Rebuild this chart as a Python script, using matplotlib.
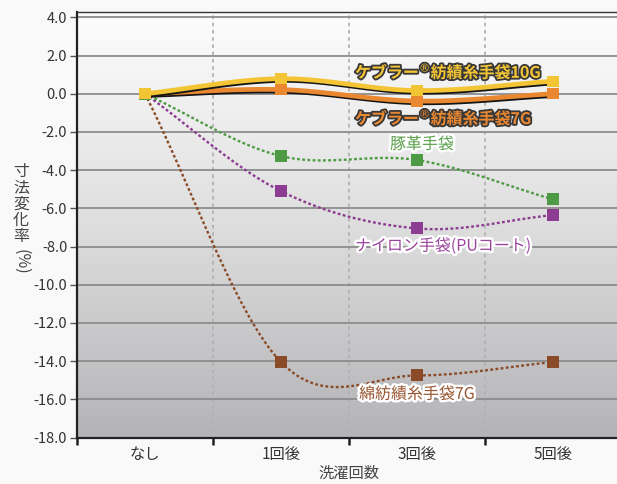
import numpy as np
import matplotlib
matplotlib.use('Agg')
import matplotlib.pyplot as plt
import matplotlib.patheffects as pe
from matplotlib.colors import LinearSegmentedColormap

plt.rcParams['font.family'] = ['Noto Sans CJK JP', 'DejaVu Sans']
plt.rcParams['mathtext.fontset'] = 'dejavusans'

# ---- data ----
categories = ['なし', '1回後', '3回後', '5回後']
kevlar10 = [0.0, 0.79, 0.17, 0.66]
kevlar7 = [0.0, 0.22, -0.38, 0.0]
pigskin = [0.0, -3.26, -3.47, -5.53]
nylon = [0.0, -5.10, -7.05, -6.35]
cotton = [0.0, -14.05, -14.75, -14.05]
ytick_values = [4, 2, 0, -2, -4, -6, -8, -10, -12, -14, -16, -18]
ytick_labels = ['4.0', '2.0', '0.0', '-2.0', '-4.0', '-6.0', '-8.0',
                '-10.0', '-12.0', '-14.0', '-16.0', '-18.0']
series_names = ['ケブラー$^{\\mathrm{®}}$紡績糸手袋10G',
                'ケブラー$^{\\mathrm{®}}$紡績糸手袋7G',
                '豚革手袋', 'ナイロン手袋(PUコート)', '綿紡績糸手袋7G']
xlabel = '洗濯回数'
ylabel_chars = ['寸', '法', '変', '化', '率']
ylabel_tail = '(%)'


def smooth(xs, ys, n=40):
    """Catmull-Rom spline through the points (reflected end points)."""
    P = np.column_stack([xs, ys]).astype(float)
    P = np.vstack([2 * P[0] - P[1], P, 2 * P[-1] - P[-2]])
    out = []
    t = np.linspace(0, 1, n)[:, None]
    for i in range(1, len(P) - 2):
        b0 = P[i]
        b1 = P[i] + (P[i + 1] - P[i - 1]) / 6
        b2 = P[i + 1] - (P[i + 2] - P[i]) / 6
        b3 = P[i + 1]
        seg = ((1 - t) ** 3) * b0 + 3 * ((1 - t) ** 2) * t * b1 + \
            3 * (1 - t) * t ** 2 * b2 + t ** 3 * b3
        out.append(seg if i == 1 else seg[1:])
    c = np.vstack(out)
    return c[:, 0], c[:, 1]


W, H = 617, 484
fig = plt.figure(figsize=(W / 100, H / 100), dpi=100, facecolor='#f9f9f9')
ax = fig.add_axes([77 / W, (H - 437.5) / H, 544 / W, 425.8 / H])

# gradient background
grad = np.linspace(0, 1, 256).reshape(-1, 1)
cmap = LinearSegmentedColormap.from_list('g', ['#fdfdfd', '#dedede', '#b4b4b8'])
ax.imshow(grad, cmap=cmap, extent=[0, 1, 0, 1], transform=ax.transAxes,
          aspect='auto', zorder=0, interpolation='bilinear')

ax.set_xlim(-0.5, 3.5)
ax.set_ylim(-18, 4.3)

# grid
ax.set_yticks(ytick_values)
ax.set_yticklabels(ytick_labels)
ax.yaxis.grid(True, color='#8c8c8c', lw=1.3, zorder=0.5)
for b in [0.5, 1.5, 2.5]:
    ax.axvline(b, color='#b2b2b2', lw=1.3, ls=(0, (2, 2)), zorder=0.6)

xs = np.arange(len(categories))

dotted = (0, (1.2, 1.0))
for ys, col, z in [(cotton, '#8b4b28', 2), (nylon, '#8c3c91', 3), (pigskin, '#4f9b45', 4)]:
    sx, sy = smooth(xs, ys)
    ax.plot(sx, sy, color=col, lw=1.7, ls=dotted, zorder=z)
    ax.plot(xs, ys, ls='none', marker='s', ms=8, color=col, mew=0, zorder=z + 0.1)

shadow = [pe.SimpleLineShadow(offset=(1.2, -1.2), shadow_color='#151515', alpha=1.0), pe.Normal()]
for ys, col, z in [(kevlar7, '#e98830', 6), (kevlar10, '#f3c535', 7)]:
    sx, sy = smooth(xs, ys)
    ax.plot(sx, sy, color=col, lw=3.4, zorder=z, path_effects=shadow, solid_capstyle='round')
    ax.plot(xs, ys, ls='none', marker='s', ms=8, color=col, mew=0, zorder=z + 0.1,
            path_effects=shadow)

# series labels
dark = [pe.withStroke(linewidth=2.6, foreground='#383838')]
white = [pe.withStroke(linewidth=3.5, foreground='white')]
ax.text(1.544, 1.18, series_names[0], color='#f3c535', fontsize=11.5, fontweight='bold',
        ha='left', va='center', path_effects=dark, zorder=10)
ax.text(1.544, -1.24, series_names[1], color='#e98830', fontsize=11.5, fontweight='bold',
        ha='left', va='center', path_effects=dark, zorder=10)
ax.text(2.037, -2.65, series_names[2], color='#5aa04a', fontsize=11.5,
        ha='center', va='center', path_effects=white, zorder=10)
ax.text(1.544, -7.98, series_names[3], color='#9a459e', fontsize=11.5,
        ha='left', va='center', path_effects=white, zorder=10)
ax.text(1.574, -15.74, series_names[4], color='#98552f', fontsize=11.5,
        ha='left', va='center', path_effects=white, zorder=10)

# axes styling
ax.spines['right'].set_visible(False)
ax.spines['left'].set_color('#222222')
ax.spines['left'].set_linewidth(1.6)
ax.spines['bottom'].set_color('#222222')
ax.spines['bottom'].set_linewidth(1.6)
ax.spines['top'].set_color('#333333')
ax.spines['top'].set_linewidth(1.0)
ax.tick_params(axis='y', length=5, width=1, color='#555555', pad=2,
               labelsize=10.5, labelcolor='#333333')
ax.set_xticks([-0.5, 0.5, 1.5, 2.5, 3.5])
ax.set_xticklabels([])
ax.set_xticks(xs, minor=True)
ax.set_xticklabels(categories, minor=True)
ax.tick_params(axis='x', which='major', length=5, width=1.8, color='#222222')
ax.tick_params(axis='x', which='minor', length=0, pad=6, labelsize=11, labelcolor='#333333')

fig.text(349 / W, 1 - 473 / H, xlabel, ha='center', va='center', fontsize=11, color='#444444')
for i, ch in enumerate(ylabel_chars):
    fig.text(21 / W, 1 - (171.7 + 16.3 * i) / H, ch, ha='center', va='center',
             fontsize=11.5, color='#444444')
fig.text(21 / W, 1 - 262 / H, ylabel_tail, ha='center', va='center', rotation=-90,
         fontsize=11.5, color='#444444')

fig.savefig('out.png', dpi=100, facecolor=fig.get_facecolor())
